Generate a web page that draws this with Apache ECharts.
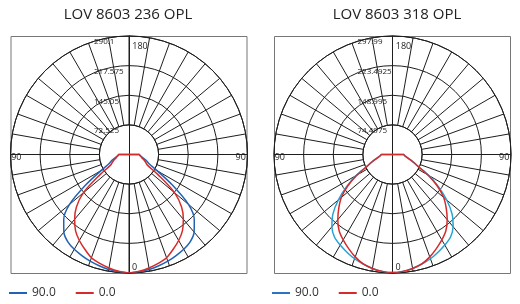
<!DOCTYPE html>
<html><head><meta charset="utf-8">
<script src="https://cdn.jsdelivr.net/npm/echarts@6/dist/echarts.min.js"></script>
<style>html,body{margin:0;padding:0;background:#fff}#c{width:520px;height:304px}</style>
</head><body><div id="c"></div>
<script>
// ---- data ----
const gammaDeg = [0, 5, 10, 15, 20, 25, 30, 35, 40, 45, 50, 55, 60, 65, 70, 75, 80, 85, 90, 180];
const chartTitles = ['LOV 8603 236 OPL', 'LOV 8603 318 OPL'];
const maxIntensity = [290.1, 297.99];
const ringStep = [72.525, 74.4975];
const planeNames = ['90.0', '0.0'];
// luminous intensity per gamma angle, C90 plane and C0 plane
const lov236_c90 = [290, 288, 286, 282, 278, 273, 268, 261, 248, 226, 190, 128, 80, 55, 46, 37, 31, 27, 25, 0];
const lov236_c0  = [290, 287, 282, 276, 269, 256, 243, 228, 207, 182, 146, 88, 52, 45, 39, 33, 30, 27, 25, 0];
const lov318_c90 = [297, 295, 291, 285, 279, 271, 263, 254, 237, 212, 178, 141, 105, 72, 56, 44, 36, 31, 28, 0];
const lov318_c0  = [297, 295, 291, 285, 274, 261, 248, 234, 214, 191, 168, 137, 103, 71, 55, 43, 35, 30, 28, 0];
const curves = [[lov236_c90, lov236_c0], [lov318_c90, lov318_c0]];

// ---- styling / layout ----
const FONT = 'Open Sans';
const GRID = '#1e1e1e';
const CX = [129, 392.5], CY = 154.5, R = 118.5;
const TITLE_X = [128, 397];
const BLUE = ['#2262b4', '#27a2d6'];
const LEGEND_BLUE = ['#2262b4', '#2b74c0'];
const RED = '#d62b2b';

function buildCurve(vals) {
  const pts = [];
  for (let i = gammaDeg.length - 1; i >= 0; i--) pts.push([vals[i], gammaDeg[i]]);
  for (let i = 1; i < gammaDeg.length; i++) pts.push([vals[i], 360 - gammaDeg[i]]);
  return pts;
}

const polar = [], angleAxis = [], radiusAxis = [], series = [], legend = [], title = [], graphic = [];
for (let k = 0; k < 2; k++) {
  const c = [CX[k], CY];
  const p0 = 3 * k;
  polar.push({ center: c, radius: [R / 4, R] });
  polar.push({ center: c, radius: [0, R] });
  polar.push({ center: c, radius: [0, R] });
  // spokes + outer circle
  angleAxis.push({ polarIndex: p0, type: 'value', min: 0, max: 360, interval: 10, startAngle: 90,
    axisLine: { show: true, lineStyle: { color: GRID, width: 1 } }, axisTick: { show: false },
    axisLabel: { show: false }, splitLine: { show: true, lineStyle: { color: GRID, width: 1 } } });
  radiusAxis.push({ polarIndex: p0, type: 'value', min: 0, max: 1, show: false });
  // rings + intensity labels
  angleAxis.push({ polarIndex: p0 + 1, type: 'value', min: 0, max: 360, startAngle: 90, show: false });
  radiusAxis.push({ polarIndex: p0 + 1, type: 'value', min: 0, max: maxIntensity[k], interval: ringStep[k],
    axisLine: { show: true, lineStyle: { color: GRID, width: 1 } }, axisTick: { show: false },
    axisLabel: { show: true, showMinLabel: false, align: 'left', verticalAlign: 'top', margin: 35,
      padding: [2, 0, 0, 0], fontSize: 8, color: '#222', fontFamily: FONT },
    splitLine: { show: true, lineStyle: { color: GRID, width: 1 } } });
  // data polar (gamma 0 at bottom)
  angleAxis.push({ polarIndex: p0 + 2, type: 'value', min: 0, max: 360, interval: 10, startAngle: -90, clockwise: true,
    axisLine: { show: false }, axisTick: { show: false }, splitLine: { show: false },
    axisLabel: { show: true, margin: -15,
      formatter: function (v) {
        if (v === 0) return '{b|0}';
        if (v === 180) return '{t|180}';
        if (v === 90) return '{l|90}';
        if (v === 270) return '{r|90}';
        return '';
      },
      rich: {
        b: { fontSize: 9, color: '#222', fontFamily: FONT, padding: [5, 0, 0, 11] },
        t: { fontSize: 9, color: '#222', fontFamily: FONT, padding: [0, 0, 0, 22] },
        l: { fontSize: 9, color: '#222', fontFamily: FONT, padding: [6, 4, 0, 0] },
        r: { fontSize: 9, color: '#222', fontFamily: FONT, padding: [6, 0, 0, 3] }
      } } });
  radiusAxis.push({ polarIndex: p0 + 2, type: 'value', min: 0, max: maxIntensity[k],
    axisLine: { show: true, lineStyle: { color: GRID, width: 1 } }, axisTick: { show: false },
    axisLabel: { show: false }, splitLine: { show: false } });

  const colors = [BLUE[k], RED];
  for (let j = 0; j < 2; j++) {
    series.push({ type: 'line', name: planeNames[j], coordinateSystem: 'polar', polarIndex: p0 + 2,
      data: buildCurve(curves[k][j]), symbol: 'none', smooth: 0.3,
      lineStyle: { color: colors[j], width: 1.5 }, itemStyle: { color: colors[j] }, z: 5 });
  }
  legend.push({ data: [{ name: planeNames[0], itemStyle: { color: LEGEND_BLUE[k] } },
                       { name: planeNames[1], itemStyle: { color: RED } }],
    left: k === 0 ? 4 : 267, top: 282, icon: 'rect', itemWidth: 18, itemHeight: 2, itemGap: 20,
    selectedMode: false, textStyle: { fontSize: 12, color: '#333', fontFamily: FONT } });
  title.push({ text: chartTitles[k], left: TITLE_X[k], top: 7, textAlign: 'center', padding: 0,
    textStyle: { fontSize: 15, fontWeight: 'normal', color: '#222', fontFamily: FONT } });
  graphic.push({ type: 'rect', silent: true, z: -10,
    shape: { x: CX[k] - R + 0.5, y: CY - R + 0.5, width: 2 * R - 1, height: 2 * R },
    style: { fill: 'none', stroke: '#777', lineWidth: 1 } });
}

const chart = echarts.init(document.getElementById('c'), null, { renderer: 'canvas' });
chart.setOption({ animation: false, backgroundColor: '#fff', title, legend, polar, angleAxis, radiusAxis, series, graphic });
</script></body></html>
